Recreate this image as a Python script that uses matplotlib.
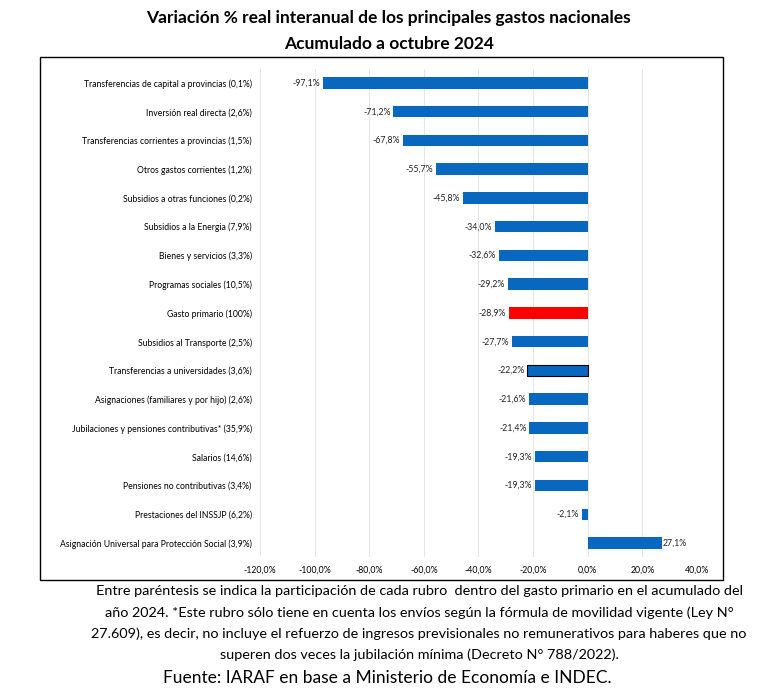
import matplotlib.pyplot as plt
from matplotlib.patches import Rectangle

# Datos del grafico (de arriba hacia abajo)
categorias = [
    'Transferencias de capital a provincias (0,1%)',
    'Inversión real directa (2,6%)',
    'Transferencias corrientes a provincias (1,5%)',
    'Otros gastos corrientes (1,2%)',
    'Subsidios a otras funciones (0,2%)',
    'Subsidios a la Energia (7,9%)',
    'Bienes y servicios (3,3%)',
    'Programas sociales (10,5%)',
    'Gasto primario (100%)',
    'Subsidios al Transporte (2,5%)',
    'Transferencias a universidades (3,6%)',
    'Asignaciones (familiares y por hijo) (2,6%)',
    'Jubilaciones y pensiones contributivas* (35,9%)',
    'Salarios (14,6%)',
    'Pensiones no contributivas (3,4%)',
    'Prestaciones del INSSJP (6,2%)',
    'Asignación Universal para Protección Social (3,9%)',
]
valori = [-97.1, -71.2, -67.8, -55.7, -45.8, -34.0, -32.6, -29.2, -28.9,
          -27.7, -22.2, -21.6, -21.4, -19.3, -19.3, -2.1, 27.1]
ticks_x = [-120, -100, -80, -60, -40, -20, 0, 20, 40]

plt.rcParams['font.family'] = ['Lato', 'DejaVu Sans']

fig = plt.figure(figsize=(7.58, 6.99), dpi=100)

# Cornice esterna
fig.patches.append(Rectangle((0.053, 0.170), 0.901, 0.748, transform=fig.transFigure,
                             fill=False, edgecolor='black', linewidth=1.0))

ax = fig.add_axes([0.343, 0.2026, 0.5765, 0.6993])

colori = []
bordi = []
for c in categorias:
    if c.startswith('Gasto primario'):
        colori.append('#FF0000')
    else:
        colori.append('#0868C0')
    if c.startswith('Transferencias a universidades'):
        bordi.append('black')
    else:
        bordi.append('none')

pos = list(range(len(categorias)))
barre = ax.barh(pos, valori, height=0.4, color=colori, edgecolor=bordi, linewidth=0.8, zorder=3)

for y, v in zip(pos, valori):
    testo = ('%.1f%%' % v).replace('.', ',')
    if v < 0:
        ax.text(v - 1, y, testo, ha='right', va='center', fontsize=6.3, color='#222222')
    else:
        ax.text(v + 0.3, y, testo, ha='left', va='center', fontsize=6.3, color='#222222')

ax.set_yticks(pos)
ax.set_yticklabels(categorias, fontsize=6.2)
ax.set_ylim(len(categorias) - 0.5, -0.5)
ax.set_xlim(-120, 40)
ax.set_xticks(ticks_x)
ax.set_xticklabels([('%.1f%%' % t).replace('.', ',') for t in ticks_x], fontsize=6.3)
ax.tick_params(axis='both', length=0, pad=6)
ax.tick_params(axis='y', pad=6)
ax.grid(axis='x', color='#E6E6E6', linewidth=0.8, zorder=0)
for s in ax.spines.values():
    s.set_visible(False)

fig.text(0.513, 0.974, 'Variación % real interanual de los principales gastos nacionales',
         ha='center', va='center', fontsize=12.5, fontweight='bold')
fig.text(0.513, 0.937, 'Acumulado a octubre 2024',
         ha='center', va='center', fontsize=12.5, fontweight='bold')

nota = ['Entre paréntesis se indica la participación de cada rubro  dentro del gasto primario en el acumulado del',
        'año 2024. *Este rubro sólo tiene en cuenta los envíos según la fórmula de movilidad vigente (Ley N°',
        '27.609), es decir, no incluye el refuerzo de ingresos previsionales no remunerativos para haberes que no',
        'superen dos veces la jubilación mínima (Decreto N° 788/2022).']
y0 = 591
for riga in nota:
    fig.text(0.553, 1 - y0 / 699, riga, ha='center', va='center', fontsize=10.4)
    y0 += 21.3
fig.text(0.511, 1 - 678 / 699, 'Fuente: IARAF en base a Ministerio de Economía e INDEC.',
         ha='center', va='center', fontsize=12.5)

fig.savefig('out.png', dpi=100)
